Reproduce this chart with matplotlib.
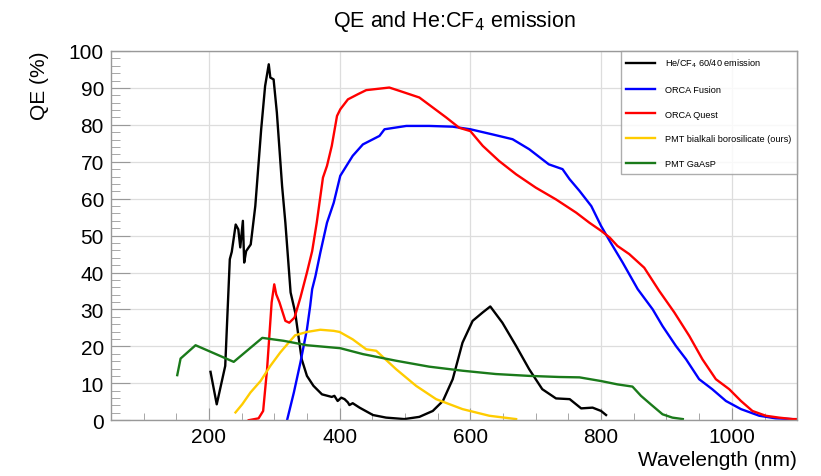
import matplotlib
matplotlib.use("Agg")
import matplotlib.pyplot as plt
from matplotlib.ticker import MultipleLocator

plt.rcParams['font.family'] = ['Liberation Sans', 'DejaVu Sans']

# He/CF4 60/40 emission spectrum (arbitrary scale)
emis_nm = [202.5, 212, 225, 232, 235, 241, 245, 248, 252, 254, 257, 264, 271, 280, 286,
           291.6, 294, 299, 304, 312, 317, 325, 332, 337, 342, 350, 360, 373, 388, 392,
           397, 402.5, 407.6, 412.7, 415, 420, 430.5, 451, 471, 499, 522, 542.5, 558, 573,
           588, 603.5, 619, 630.5, 649, 670, 690, 710, 731, 752, 769.5, 787, 800, 807.6]
emis_val = [13.1, 4.3, 14.7, 43.6, 45.6, 53, 51.7, 46.8, 54, 42.7, 45.8, 47.6, 58, 78.8, 90.5,
            96.4, 92.8, 92.3, 83.3, 63.4, 53.5, 34.6, 29.2, 22.8, 16.5, 12, 9.3, 7, 6.3, 6.6,
            5.2, 6.1, 5.7, 4.8, 4.1, 4.6, 3.4, 1.4, 0.7, 0.3, 0.9, 2.5, 5.2, 11.1,
            21, 26.9, 29.2, 30.8, 26.4, 20.1, 13.8, 8.4, 5.9, 5.7, 3.2, 3.4, 2.5, 1.4]

# ORCA Fusion QE
fusion_nm = [319.6, 330, 340, 350, 355, 358, 363, 370.5, 380.7, 391, 401, 420, 435.6, 461,
             468.7, 502, 537, 573, 600, 634, 664.6, 690, 720, 741, 751.7, 767, 785, 800,
             813, 833, 856, 879, 894, 914.5, 930, 950, 970, 991, 1014, 1042, 1067, 1092, 1100]
fusion_qe = [0, 7.5, 15.6, 24.6, 31, 35.5, 39, 45.4, 53.5, 58.9, 66.2, 71.6, 74.7, 77,
             78.8, 79.7, 79.7, 79.5, 78.8, 77.4, 76.1, 73.4, 69.3, 68, 65.3, 62.1, 58, 52.6,
             48.6, 42.7, 35.5, 30, 25.5, 20.1, 16.5, 11.1, 8.4, 5.2, 3, 1.2, 0.5, 0.3, 0.2]

# ORCA Quest QE
quest_nm = [261, 276, 283, 289, 296, 300, 303, 308, 317, 323, 331, 340, 350, 358, 365,
            374.5, 380.7, 388, 396, 401, 412.7, 428, 440.7, 461, 476, 491.6, 522, 542.5,
            563, 583, 600, 619, 644, 670, 700, 731, 762, 782, 800, 813, 825, 843, 866, 889,
            912, 935, 955, 975.6, 996, 1014, 1031.5, 1052, 1072, 1092.6, 1100]
quest_qe = [0, 0.5, 2.5, 13.8, 31.9, 36.8, 34.1, 31.9, 26.9, 26.4, 27.8, 33.2, 40, 45.8, 53.5,
            65.7, 68.9, 74.3, 82.4, 84.2, 86.9, 88.3, 89.4, 89.8, 90.1, 89.2, 87.4, 84.7,
            82, 79.2, 78.3, 74.3, 70.2, 66.6, 63, 59.8, 56.2, 53.5, 51.3, 49.5, 47.2, 45, 41.3, 35,
            29.2, 22.8, 16.5, 11.1, 8.4, 5.2, 2.5, 1.2, 0.7, 0.3, 0.3]

# PMT bialkali borosilicate (ours)
bialk_nm = [240.7, 251, 263.6, 279, 294, 309, 322, 332, 350, 370.5, 391, 400, 420, 440.7,
            456, 486.5, 517, 547.6, 588, 629, 670]
bialk_qe = [2.1, 4.3, 7.5, 10.6, 14.7, 18.3, 21, 23, 23.9, 24.5, 24.2, 23.9, 21.9, 19.2,
            18.8, 13.8, 9.3, 5.7, 3, 1.2, 0.3]

# PMT GaAsP
gaasp_nm = [151.6, 156.7, 179.6, 238, 281.7, 314.5, 350, 401, 435.6, 486.5, 537, 588, 639,
            690, 736, 767, 800, 825, 848, 861, 876, 894, 909, 925]
gaasp_qe = [12.2, 16.7, 20.3, 15.8, 22.3, 21.5, 20.3, 19.5, 17.9, 16.1, 14.5, 13.4, 12.5,
            12, 11.7, 11.6, 10.6, 9.7, 9.1, 6.6, 4.3, 1.6, 0.7, 0.3]

fig = plt.figure(figsize=(8.21, 4.77), dpi=100)
ax = fig.add_axes([0.135, 0.117, 0.836, 0.774])

lw = 1.7
ax.plot(emis_nm, emis_val, color='black', lw=lw, label='He/CF$_4$ 60/40 emission')
ax.plot(fusion_nm, fusion_qe, color='#0000ff', lw=lw, label='ORCA Fusion')
ax.plot(quest_nm, quest_qe, color='#ff0000', lw=lw, label='ORCA Quest')
ax.plot(bialk_nm, bialk_qe, color='#ffcc00', lw=lw, label='PMT bialkali borosilicate (ours)')
ax.plot(gaasp_nm, gaasp_qe, color='#1a7a1a', lw=lw, label='PMT GaAsP')

ax.set_xlim(50, 1100)
ax.set_ylim(0, 100)
ax.xaxis.set_major_locator(MultipleLocator(200))
ax.xaxis.set_minor_locator(MultipleLocator(50))
ax.yaxis.set_major_locator(MultipleLocator(10))
ax.yaxis.set_minor_locator(MultipleLocator(2))
ax.grid(True, which='major', color='#dddddd', lw=0.9)
ax.set_axisbelow(True)

for s in ax.spines.values():
    s.set_color('#999999')
    s.set_linewidth(1.0)
ax.tick_params(which='both', direction='in', color='#999999', labelsize=15, top=False, right=False)
ax.tick_params(axis='x', which='major', length=8.6, pad=5)
ax.tick_params(axis='x', which='minor', length=4.7)
ax.tick_params(axis='y', which='major', length=13.5, pad=5)
ax.tick_params(axis='y', which='minor', length=6.8)

ax.set_title('QE and He:CF$_4$ emission', fontsize=15.5, pad=18)
ax.set_ylabel('QE (%)', fontsize=15)
ax.yaxis.set_label_coords(-0.118, 1.0)
ax.yaxis.label.set_va('top')
ax.yaxis.label.set_ha('right')
ax.set_xlabel('Wavelength (nm)', fontsize=15, ha='right')
ax.xaxis.set_label_coords(1.0, -0.082)

leg = ax.legend(loc='upper right', bbox_to_anchor=(1.0, 1.0), borderaxespad=0, fontsize=6.6,
                frameon=True, fancybox=False, edgecolor='#999999', handlelength=3.1,
                labelspacing=1.7, borderpad=0.65, handletextpad=1.1)
leg.get_frame().set_linewidth(1.0)

fig.savefig('out.png', dpi=100)
